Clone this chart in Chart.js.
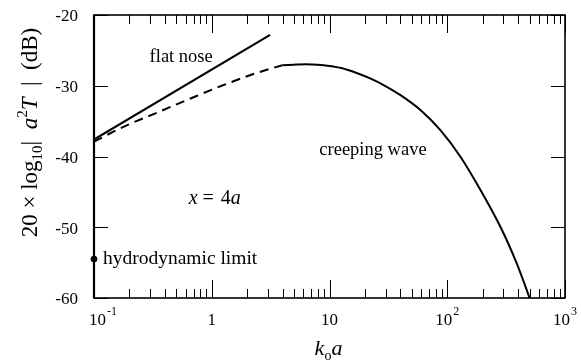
<!DOCTYPE html>
<html><head><meta charset="utf-8">
<script src="https://cdn.jsdelivr.net/npm/chart.js@4.4.0/dist/chart.umd.min.js"></script>
<style>html,body{margin:0;padding:0;background:#fff;}canvas{display:block}</style>
</head><body>
<canvas id="c" width="581" height="362"></canvas>
<script>
// ---- data ----
const flatNoseX = [0.1, 3.13];
const flatNoseY = [-37.6, -22.8];
const lowFreqX = [0.1, 0.178, 0.343, 0.661, 1.26, 2.40, 3.98];
const lowFreqY = [-37.9, -35.8, -33.8, -31.8, -29.9, -28.2, -27.1];
const creepX = [3.98, 5.01, 6.31, 7.94, 10, 12.6, 17.0, 22.4, 28.8, 39.8, 58.9, 87.1, 129, 191, 282, 389, 501];
const creepY = [-27.1, -27.02, -26.97, -27.02, -27.2, -27.5, -28.2, -29.0, -29.9, -31.3, -33.4, -36.25, -40.0, -44.7, -49.9, -55.1, -60.0];
const hydroX = [0.1];
const hydroY = [-54.5];
const xMajorTicks = [0.1, 1, 10, 100, 1000];
const xTickBase = ['10', '1', '10', '10', '10'];
const xTickExp = ['-1', '', '', '2', '3'];
const xMinorTicks = [0.2,0.3,0.4,0.5,0.6,0.7,0.8,0.9, 2,3,4,5,6,7,8,9, 20,30,40,50,60,70,80,90, 200,300,400,500,600,700,800,900];
const yTicks = [-20, -30, -40, -50, -60];
const yTickLabels = ['-20', '-30', '-40', '-50', '-60'];

const pts = (xs, ys) => xs.map((v, i) => ({x: v, y: ys[i]}));
const SERIF = '"Liberation Serif", "Times New Roman", serif';

function drawRich(ctx, segs, cx, cy) {
  let total = 0;
  segs.forEach(s => { ctx.font = s.f + ' ' + SERIF; s.w = ctx.measureText(s.t).width; total += s.w + (s.gap || 0); });
  let xx = cx - total / 2;
  ctx.textAlign = 'left';
  ctx.textBaseline = 'alphabetic';
  segs.forEach(s => { ctx.font = s.f + ' ' + SERIF; ctx.fillText(s.t, xx, cy + (s.dy || 0)); xx += s.w + (s.gap || 0); });
}

const deco = {
  id: 'deco',
  afterDraw(chart) {
    const {ctx, chartArea: a, scales: {x, y}} = chart;
    ctx.save();
    ctx.strokeStyle = '#000';
    ctx.fillStyle = '#000';
    ctx.lineWidth = 1;
    ctx.beginPath();
    xMajorTicks.forEach(v => {
      const p = Math.round(x.getPixelForValue(v)) + 0.5;
      ctx.moveTo(p, a.bottom); ctx.lineTo(p, a.bottom - 18);
      ctx.moveTo(p, a.top); ctx.lineTo(p, a.top + 18);
    });
    xMinorTicks.forEach(v => {
      const p = Math.round(x.getPixelForValue(v)) + 0.5;
      ctx.moveTo(p, a.bottom); ctx.lineTo(p, a.bottom - 9);
      ctx.moveTo(p, a.top); ctx.lineTo(p, a.top + 9);
    });
    yTicks.forEach(v => {
      const p = Math.round(y.getPixelForValue(v)) + 0.5;
      ctx.moveTo(a.left, p); ctx.lineTo(a.left + 14, p);
      ctx.moveTo(a.right, p); ctx.lineTo(a.right - 14, p);
    });
    ctx.stroke();
    ctx.lineWidth = 1.6;
    ctx.strokeRect(a.left, a.top, a.right - a.left, a.bottom - a.top);
    ctx.lineWidth = 2.2;
    ctx.beginPath(); ctx.moveTo(a.left, a.top); ctx.lineTo(a.left, a.bottom); ctx.stroke();

    // y tick labels
    ctx.font = '17px ' + SERIF;
    ctx.textAlign = 'right';
    ctx.textBaseline = 'middle';
    yTicks.forEach((v, i) => ctx.fillText(yTickLabels[i], a.left - 16, y.getPixelForValue(v) + 2));

    // x tick labels
    xMajorTicks.forEach((v, i) => {
      const p = x.getPixelForValue(v);
      ctx.font = '17px ' + SERIF;
      const bw = ctx.measureText(xTickBase[i]).width;
      ctx.font = '12px ' + SERIF;
      const ew = xTickExp[i] ? ctx.measureText(xTickExp[i]).width + 1 : 0;
      let left = p - (bw + ew) / 2;
      if (i === 0) left = p - 5;
      const base = a.bottom + 27;
      ctx.textAlign = 'left';
      ctx.textBaseline = 'alphabetic';
      ctx.font = '17px ' + SERIF;
      ctx.fillText(xTickBase[i], left, base);
      if (xTickExp[i]) { ctx.font = '12px ' + SERIF; ctx.fillText(xTickExp[i], left + bw + 1, base - 10); }
    });

    // axis titles
    drawRich(ctx, [
      {t: 'k', f: 'italic 22px'},
      {t: 'o', f: '14px', dy: 5},
      {t: 'a', f: 'italic 22px'}
    ], (a.left + a.right) / 2 - 1, a.bottom + 57);

    ctx.save();
    ctx.translate(29, (a.top + a.bottom) / 2 - 24);
    ctx.rotate(-Math.PI / 2);
    drawRich(ctx, [
      {t: '20 × log', f: '23px'},
      {t: '10', f: '15px', dy: 5},
      {t: '|  ', f: '23px'},
      {t: 'a', f: 'italic 23px'},
      {t: '2', f: '15px', dy: -10},
      {t: 'T', f: 'italic 23px'},
      {t: '  |  (dB)', f: '23px'}
    ], 0, 8);
    ctx.restore();

    // annotations anchored in data coords
    ctx.textBaseline = 'middle';
    ctx.font = '18.5px ' + SERIF;
    ctx.textAlign = 'center';
    ctx.fillText('flat nose', x.getPixelForValue(0.55), y.getPixelForValue(-25.9));
    ctx.fillText('creeping wave', x.getPixelForValue(23.4), y.getPixelForValue(-39.1));
    ctx.textAlign = 'left';
    ctx.font = '19.5px ' + SERIF;
    ctx.fillText('hydrodynamic limit', x.getPixelForValue(0.119), y.getPixelForValue(-54.5));
    ctx.textBaseline = 'alphabetic';
    drawRich(ctx, [
      {t: 'x', f: 'italic 20px'},
      {t: ' = ', f: '20px', gap: 2},
      {t: '4', f: '20px'},
      {t: 'a', f: 'italic 20px'}
    ], x.getPixelForValue(1.06), y.getPixelForValue(-45.9) + 6);
    ctx.restore();
  }
};

new Chart(document.getElementById('c'), {
  type: 'scatter',
  data: {
    datasets: [
      {data: pts(flatNoseX, flatNoseY), showLine: true, borderColor: '#000', borderWidth: 2, pointRadius: 0, tension: 0},
      {data: pts(lowFreqX, lowFreqY), showLine: true, borderColor: '#000', borderWidth: 2, borderDash: [9, 6], pointRadius: 0, cubicInterpolationMode: 'monotone'},
      {data: pts(creepX, creepY), showLine: true, borderColor: '#000', borderWidth: 2, pointRadius: 0, tension: 0.3},
      {data: pts(hydroX, hydroY), showLine: false, pointRadius: 3, pointBackgroundColor: '#000', pointBorderColor: '#000', clip: false}
    ]
  },
  options: {
    responsive: false,
    animation: false,
    events: [],
    layout: {padding: {left: 94, right: 16, top: 15, bottom: 64}},
    plugins: {legend: {display: false}, tooltip: {enabled: false}},
    scales: {
      x: {type: 'logarithmic', min: 0.1, max: 1000, display: false},
      y: {type: 'linear', min: -60, max: -20, display: false}
    }
  },
  plugins: [deco]
});
</script>
</body></html>
